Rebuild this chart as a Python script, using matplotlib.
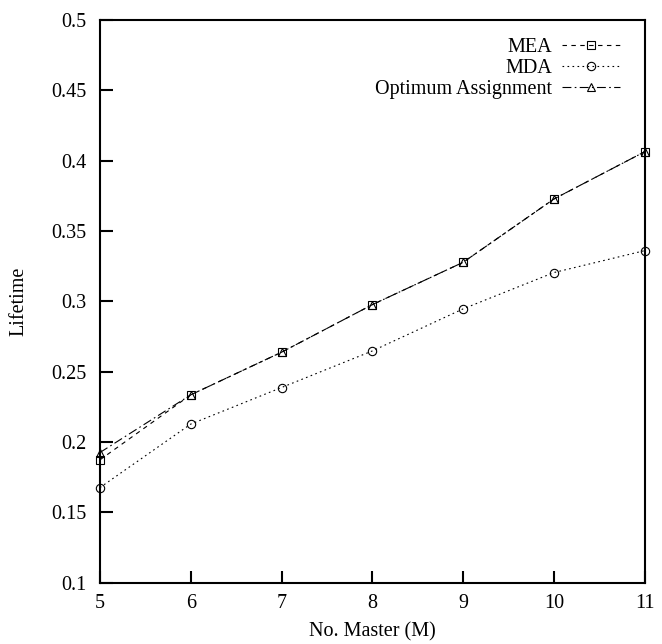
import numpy as np
import matplotlib.pyplot as plt

plt.rcParams['font.family'] = ['Liberation Serif', 'DejaVu Serif']

masters = [5, 6, 7, 8, 9, 10, 11]
mea = [0.1874, 0.2336, 0.2639, 0.2977, 0.3278, 0.3728, 0.4064]
mda = [0.1677, 0.2128, 0.2388, 0.2648, 0.2947, 0.3205, 0.3361]
optimum = [0.1926, 0.2336, 0.2639, 0.2977, 0.3278, 0.3728, 0.4064]

fig = plt.figure(figsize=(6.62, 6.44), dpi=100)
ax = fig.add_axes([0.151, 0.095, 0.823, 0.874])

style = dict(color="k", linewidth=0.8, markersize=6, markerfacecolor="none",
             markeredgewidth=0.8, clip_on=False)
ax.plot(masters, mea, linestyle=(0, (4, 4)), marker="s", label="MEA", **style)
ax.plot(masters, mda, linestyle=(0, (1.5, 3)), marker="o", label="MDA", **style)
ax.plot(masters, optimum, linestyle=(0, (8, 3, 1.5, 3)), marker="^",
        label="Optimum Assignment", **style)

ax.set_xlim(5, 11)
ax.set_ylim(0.1, 0.5)
ax.set_xticks(masters)
ax.set_yticks(np.arange(0.1, 0.501, 0.05))
ax.set_yticklabels(["0.1", "0.15", "0.2", "0.25", "0.3", "0.35", "0.4", "0.45", "0.5"])

for s in ax.spines.values():
    s.set_linewidth(1.5)
ax.tick_params(direction="in", length=9, width=1.5, labelsize=14.5)
ax.tick_params(axis="y", pad=10)
ax.tick_params(axis="x", pad=8)

ax.set_xlabel("No. Master (M)", fontsize=14.5, labelpad=7)
ax.set_ylabel("Lifetime", fontsize=14.5, labelpad=16)

ax.legend(loc="upper right", frameon=False, markerfirst=False, fontsize=14.5,
          handlelength=2.9, handletextpad=0.5, labelspacing=0.1,
          borderaxespad=0.0, bbox_to_anchor=(0.97, 0.983))

fig.savefig("out.png", dpi=100)
